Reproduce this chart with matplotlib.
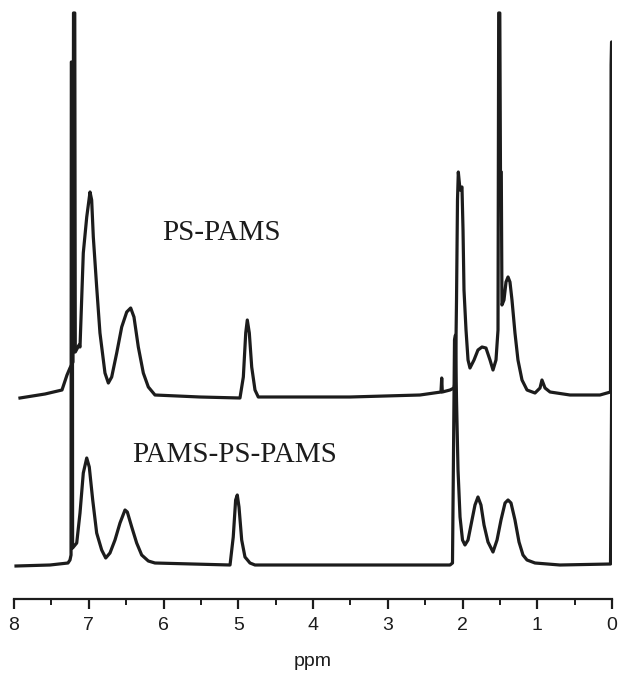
import matplotlib
matplotlib.use("Agg")
import matplotlib.pyplot as plt
from matplotlib.ticker import MultipleLocator

# 1H NMR traces, chemical shift (ppm) vs. intensity (arbitrary units)
# upper trace: PS-PAMS diblock
ps_pams_ppm = [7.920, 7.585, 7.358, 7.291, 7.251, 7.211, 7.204, 7.187, 7.180, 7.130,
               7.117, 7.073, 7.027, 6.983, 6.961, 6.939, 6.894, 6.850, 6.783, 6.738,
               6.693, 6.626, 6.559, 6.492, 6.439, 6.395, 6.337, 6.270, 6.203, 6.114,
               5.512, 4.977, 4.932, 4.900, 4.879, 4.852, 4.820, 4.776, 4.732, 3.505,
               2.569, 2.288, 2.278, 2.270, 2.167, 2.114, 2.094, 2.080, 2.067, 2.056,
               2.033, 2.007, 1.993, 1.980, 1.953, 1.926, 1.900, 1.846, 1.793, 1.739,
               1.686, 1.632, 1.592, 1.552, 1.525, 1.516, 1.501, 1.492, 1.481, 1.472,
               1.445, 1.418, 1.391, 1.365, 1.338, 1.298, 1.258, 1.204, 1.137, 1.030,
               0.963, 0.937, 0.896, 0.829, 0.562, 0.161, 0.020, 0.012, 0.006, 0.000]
ps_pams_int = [-1, 3, 7, 22, 29, 35, 384, 384, 45, 52,
               50, 144, 180, 205, 197, 160, 110, 64, 24, 14,
               20, 44, 70, 85, 89, 80, 50, 24, 10, 2,
               0, -1, 20, 64, 77, 64, 30, 7, 0, 0,
               2, 5, 19, 5, 7, 9, 17, 97, 197, 225,
               207, 210, 167, 107, 67, 37, 29, 37, 47, 50,
               49, 37, 27, 37, 67, 384, 384, 225, 225, 92,
               97, 115, 120, 115, 97, 64, 37, 17, 7, 4,
               9, 17, 9, 5, 2, 2, 5, 332, 355, 355]

# lower trace: PAMS-PS-PAMS triblock
pams_ps_pams_ppm = [7.973, 7.518, 7.278, 7.251, 7.237, 7.233, 7.220, 7.216, 7.161, 7.117,
                    7.073, 7.027, 6.993, 6.947, 6.894, 6.827, 6.773, 6.716, 6.649, 6.582,
                    6.515, 6.484, 6.425, 6.359, 6.292, 6.203, 6.114, 5.110, 5.067, 5.035,
                    5.013, 4.990, 4.954, 4.910, 4.843, 4.776, 2.167, 2.134, 2.120, 2.107,
                    2.094, 2.080, 2.060, 2.033, 2.000, 1.967, 1.926, 1.873, 1.833, 1.793,
                    1.753, 1.712, 1.659, 1.592, 1.538, 1.485, 1.431, 1.391, 1.351, 1.298,
                    1.244, 1.191, 1.137, 1.030, 0.696, 0.020, 0.004]
pams_ps_pams_int = [-1, 0, 2, 5, 10, 503, 503, 17, 22, 52,
                    92, 107, 98, 65, 32, 15, 7, 12, 25, 42,
                    55, 53, 38, 22, 10, 4, 2, 0, 28, 65,
                    70, 58, 25, 8, 2, 0, 0, 2, 115, 225,
                    230, 165, 95, 48, 25, 20, 25, 45, 60, 68,
                    60, 40, 23, 13, 25, 45, 62, 65, 62, 45,
                    23, 10, 5, 2, 0, 1, 180]

trace_offset = 168
labels = ["PS-PAMS", "PAMS-PS-PAMS"]
label_ppm = [6.02, 6.42]
label_int = [325, 103]

INK = "#1c1c1c"

fig = plt.figure(figsize=(6.18, 6.83), dpi=100)
ax = fig.add_axes([14 / 618, 84 / 683, 598 / 618, 599 / 683])

ax.plot(ps_pams_ppm, [v + trace_offset for v in ps_pams_int],
        color=INK, lw=2.3, solid_joinstyle="round")
ax.plot(pams_ps_pams_ppm, pams_ps_pams_int,
        color=INK, lw=2.3, solid_joinstyle="round")

for txt, xp, yp in zip(labels, label_ppm, label_int):
    ax.text(xp, yp, txt, ha="left", va="baseline", color=INK,
            fontsize=21, family="Liberation Serif")

ax.set_xlim(8, 0)
ax.set_ylim(-34, 565)

for side in ["top", "left", "right"]:
    ax.spines[side].set_visible(False)
ax.spines["bottom"].set_linewidth(1.6)
ax.spines["bottom"].set_color(INK)
ax.set_yticks([])

ax.xaxis.set_major_locator(MultipleLocator(1))
ax.xaxis.set_minor_locator(MultipleLocator(0.5))
ax.tick_params(axis="x", which="major", direction="out", length=7, width=1.6,
               color=INK, labelsize=14, pad=6, labelcolor=INK)
ax.tick_params(axis="x", which="minor", direction="out", length=4, width=1.4, color=INK)
for lab in ax.get_xticklabels():
    lab.set_family("Liberation Sans")

ax.set_xlabel("ppm", fontsize=14, family="Liberation Sans", color=INK, labelpad=14)

fig.savefig("out.png", dpi=100, facecolor="white")
